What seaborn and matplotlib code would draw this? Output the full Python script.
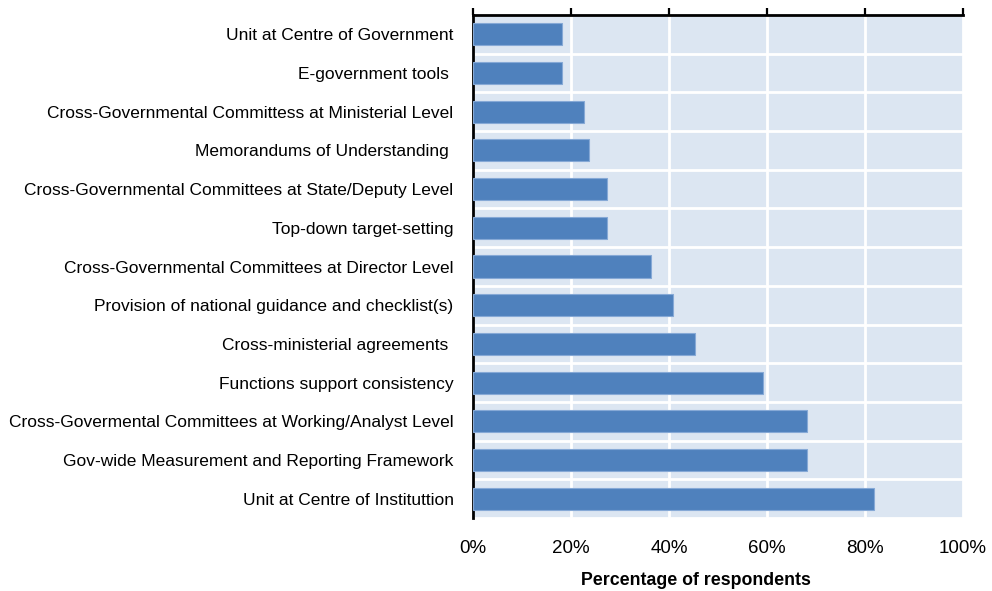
import matplotlib
matplotlib.use("Agg")
import matplotlib.pyplot as plt
from matplotlib.ticker import FixedLocator, PercentFormatter
from matplotlib import font_manager
import seaborn as sns
import pandas as pd
import numpy as np

categories = [
    "Unit at Centre of Government",
    "E-government tools ",
    "Cross-Governmental Committess at Ministerial Level",
    "Memorandums of Understanding ",
    "Cross-Governmental Committees at State/Deputy Level",
    "Top-down target-setting",
    "Cross-Governmental Committees at Director Level",
    "Provision of national guidance and checklist(s)",
    "Cross-ministerial agreements ",
    "Functions support consistency",
    "Cross-Govermental Committees at Working/Analyst Level",
    "Gov-wide Measurement and Reporting Framework",
    "Unit at Centre of Instituttion",
]
shares = [18.2, 18.2, 22.7, 23.7, 27.3, 27.3, 36.4, 40.9, 45.3, 59.1, 68.2, 68.2, 81.8]
x_ticks = [0, 20, 40, 60, 80, 100]

df = pd.DataFrame({"category": categories, "share": shares})

sns.set_theme(style="white")
names = {f.name for f in font_manager.fontManager.ttflist}
family = "Liberation Sans Narrow" if "Liberation Sans Narrow" in names else "Liberation Sans"
plt.rcParams["font.family"] = [family, "DejaVu Sans"]

fig = plt.figure(figsize=(9.92, 5.91), dpi=100)
ax = fig.add_axes([0.4768, 0.1235, 0.4940, 0.8511])
ax.set_facecolor("#dce6f2")

sns.barplot(data=df, x="share", y="category", orient="h", color="#4f81bd",
            saturation=1, width=0.57, edgecolor="#86a9d6", linewidth=0.8,
            ax=ax, zorder=3)

ax.set_xlim(0, 100)
ax.set_ylim(len(categories) - 0.5, -0.5)
ax.xaxis.set_major_locator(FixedLocator(x_ticks))
ax.xaxis.set_major_formatter(PercentFormatter(decimals=0))

# white grid: vertical lines at the ticks, horizontal lines between categories
ax.yaxis.set_minor_locator(FixedLocator(np.arange(len(categories) + 1) - 0.5))
ax.grid(axis="x", which="major", color="white", linewidth=2, zorder=1)
ax.grid(axis="y", which="minor", color="white", linewidth=2, zorder=1)
ax.grid(axis="y", which="major", visible=False)
ax.set_axisbelow(True)

for side in ["right", "bottom"]:
    ax.spines[side].set_visible(False)
for side in ["top", "left"]:
    ax.spines[side].set_visible(True)
    ax.spines[side].set_color("black")
    ax.spines[side].set_linewidth(2)

ax.tick_params(axis="x", which="major", top=True, bottom=False, labeltop=False,
               labelbottom=True, direction="out", length=5, width=1.6,
               color="black", labelsize=13.5, pad=11, labelcolor="black")
ax.tick_params(axis="y", which="both", left=False, length=0, labelsize=12.5,
               pad=14, labelcolor="black")

ax.set_ylabel("")
ax.set_xlabel("Percentage of respondents", fontsize=12.8, fontweight="bold",
              color="black")
ax.xaxis.set_label_coords(0.455, -0.108)

fig.savefig("out.png", dpi=100)
